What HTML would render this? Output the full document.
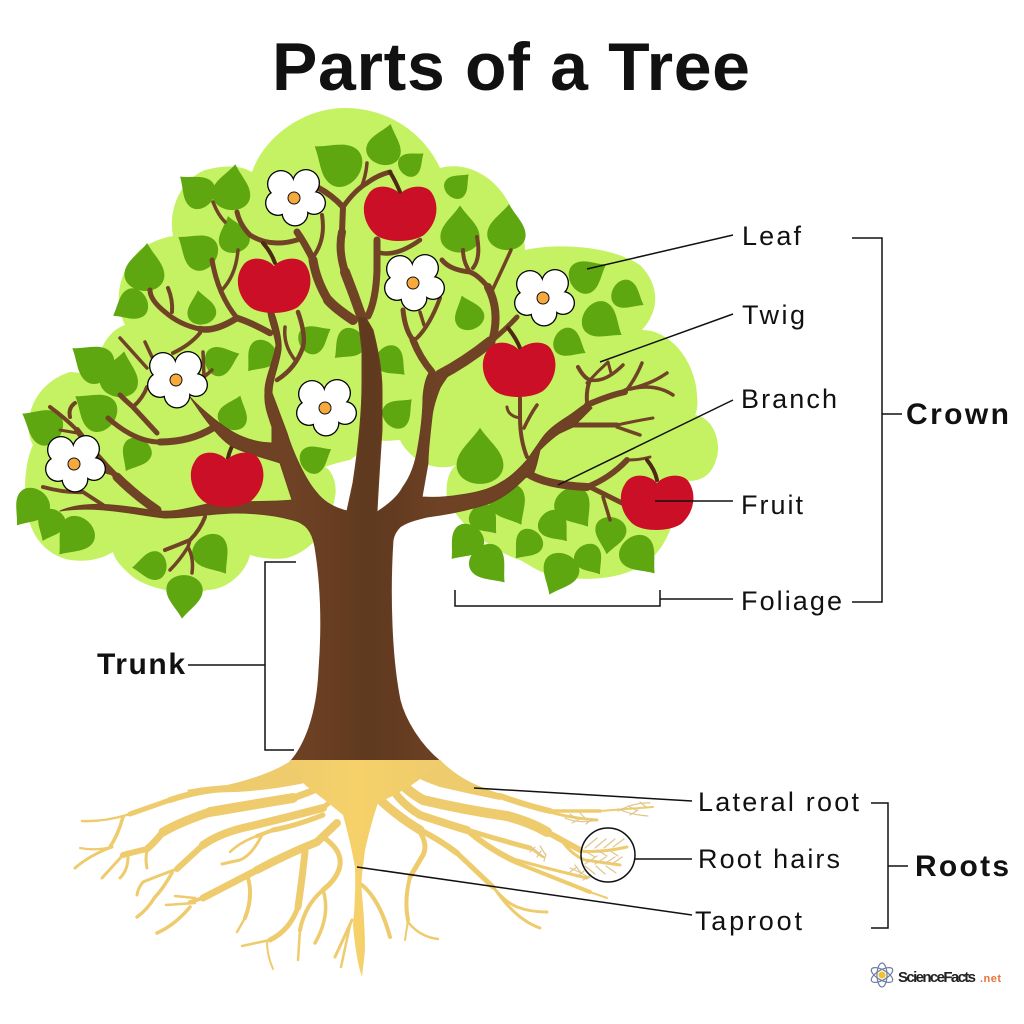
<!DOCTYPE html>
<html><head><meta charset="utf-8"><style>
html,body{margin:0;padding:0;background:#fff}
svg{display:block}
text{font-family:"Liberation Sans",sans-serif;fill:#111}
.l{font-size:27px}
.b{font-size:30px;font-weight:bold}
.br{fill:none;stroke:#704326;stroke-linecap:round;stroke-linejoin:round}
.ln{fill:none;stroke:#111;stroke-width:1.5}
.r{fill:none;stroke:#eecb6c;stroke-linecap:round;stroke-linejoin:round}
.h{fill:none;stroke:#dfc68c;stroke-width:1.2;stroke-linecap:round}
</style></head><body>
<svg width="1024" height="1024" viewBox="0 0 1024 1024" xmlns="http://www.w3.org/2000/svg">
<defs>
<linearGradient id="tk" gradientUnits="userSpaceOnUse" x1="290" x2="440" y1="0" y2="0"><stop offset="0" stop-color="#6f4225"/><stop offset=".3" stop-color="#673d21"/><stop offset=".5" stop-color="#5f3a1f"/><stop offset=".7" stop-color="#633b20"/><stop offset="1" stop-color="#6f4225"/></linearGradient>
<linearGradient id="bg" gradientUnits="userSpaceOnUse" x1="280" x2="445" y1="0" y2="0"><stop offset="0" stop-color="#eecb6c"/><stop offset=".45" stop-color="#f6d16a"/><stop offset="1" stop-color="#eecb6c"/></linearGradient>
<path id="lf" d="M0,-25C8,-13 20,-5 20,7C20,17 10,23 0,23C-10,23 -20,17 -20,7C-20,-5 -8,-13 0,-25Z" fill="#5ea710"/>
<path id="ap" d="M0,-19C8,-28 28,-30 33,-18C40,-5 36,12 24,22C12,30 -14,30 -24,22C-36,12 -40,-6 -32,-18C-26,-30 -8,-28 0,-19Z" fill="#cb0f26"/>
<g id="fl">
<g fill="#000"><circle cx="-13" cy="-14" r="14"/><circle cx="12" cy="-15" r="14"/><circle cx="20" cy="5" r="12"/><circle cx="1" cy="15" r="13.5"/><circle cx="-16" cy="5" r="13"/></g>
<g fill="#fff"><circle cx="-13" cy="-14" r="12.7"/><circle cx="12" cy="-15" r="12.7"/><circle cx="20" cy="5" r="10.7"/><circle cx="1" cy="15" r="12.2"/><circle cx="-16" cy="5" r="11.7"/><circle r="14"/></g>
<circle r="6" fill="#f8a93c" stroke="#111" stroke-width="1"/>
</g>
</defs>

<text x="272" y="90" font-size="68" font-weight="bold" textLength="478" lengthAdjust="spacing">Parts of a Tree</text>

<!-- foliage -->
<path fill="#c5f263" d="M252,172C265,135 305,108 345,108C390,108 425,135 440,168C470,160 500,180 512,210C522,230 525,240 525,250C555,243 610,245 640,265C660,285 660,310 642,330C670,330 695,360 697,395C698,405 697,412 695,415C715,418 722,445 716,460C710,480 695,483 678,480C678,510 672,540 650,560C625,580 590,580 570,578C545,578 530,565 520,560C490,550 460,525 447,500C445,480 450,470 456,465C445,470 425,466 417,460C408,452 403,447 400,440C395,440 385,442 377,440L350,460C340,462 330,465 325,467C335,472 337,490 335,497C330,525 315,550 287,558C275,560 260,558 250,555C245,575 225,590 207,590C190,597 150,590 133,577C122,568 115,560 113,552C100,560 85,562 70,560C45,555 30,535 27,510C22,480 28,455 33,445C22,425 30,385 70,372C80,372 88,375 92,375C100,345 110,330 125,325C115,305 115,275 140,250C150,242 165,237 173,236C168,210 180,180 205,170C225,165 240,165 252,172Z"/>

<!-- leaves -->
<g>
<use href="#lf" transform="translate(337,162) rotate(-55) scale(1.09)"/>
<use href="#lf" transform="translate(385,145) rotate(15) scale(.87)"/>
<use href="#lf" transform="translate(412,163) rotate(50) scale(.6)"/>
<use href="#lf" transform="translate(196,190) rotate(-50) scale(.83)"/>
<use href="#lf" transform="translate(232,188) rotate(8) scale(.96)"/>
<use href="#lf" transform="translate(458,185) rotate(45) scale(.6)"/>
<use href="#lf" transform="translate(460,230) rotate(0) scale(.98)"/>
<use href="#lf" transform="translate(507,228) rotate(5) scale(.96)"/>
<use href="#lf" transform="translate(197,250) rotate(-55) scale(.91)"/>
<use href="#lf" transform="translate(233,235) rotate(-15) scale(.78)"/>
<use href="#lf" transform="translate(145,268) rotate(5) scale(1)"/>
<use href="#lf" transform="translate(130,306) rotate(-120) scale(.78)"/>
<use href="#lf" transform="translate(201,308) rotate(-10) scale(.72)"/>
<use href="#lf" transform="translate(92,362) rotate(-55) scale(.96)"/>
<use href="#lf" transform="translate(120,375) rotate(10) scale(.96)"/>
<use href="#lf" transform="translate(95,410) rotate(-55) scale(.96)"/>
<use href="#lf" transform="translate(42,425) rotate(-60) scale(.91)"/>
<use href="#lf" transform="translate(30,508) rotate(-143) scale(.87)"/>
<use href="#lf" transform="translate(50,525) rotate(-155) scale(.7)"/>
<use href="#lf" transform="translate(74,537) rotate(-140) scale(.91)"/>
<use href="#lf" transform="translate(135,455) rotate(-150) scale(.74)"/>
<use href="#lf" transform="translate(234,413) rotate(20) scale(.74)"/>
<use href="#lf" transform="translate(222,360) rotate(70) scale(.74)"/>
<use href="#lf" transform="translate(260,357) rotate(-140) scale(.74)"/>
<use href="#lf" transform="translate(315,338) rotate(60) scale(.72)"/>
<use href="#lf" transform="translate(348,345) rotate(-135) scale(.74)"/>
<use href="#lf" transform="translate(392,362) rotate(135) scale(.72)"/>
<use href="#lf" transform="translate(399,412) rotate(45) scale(.72)"/>
<use href="#lf" transform="translate(316,458) rotate(60) scale(.7)"/>
<use href="#lf" transform="translate(480,457) rotate(0) scale(1.17)"/>
<use href="#lf" transform="translate(468,313) rotate(-20) scale(.74)"/>
<use href="#lf" transform="translate(588,275) rotate(60) scale(.83)"/>
<use href="#lf" transform="translate(628,296) rotate(120) scale(.72)"/>
<use href="#lf" transform="translate(603,322) rotate(125) scale(.91)"/>
<use href="#lf" transform="translate(570,344) rotate(120) scale(.72)"/>
<use href="#lf" transform="translate(510,505) rotate(150) scale(.91)"/>
<use href="#lf" transform="translate(485,520) rotate(140) scale(.7)"/>
<use href="#lf" transform="translate(465,543) rotate(-140) scale(.83)"/>
<use href="#lf" transform="translate(490,565) rotate(140) scale(.91)"/>
<use href="#lf" transform="translate(527,545) rotate(-140) scale(.7)"/>
<use href="#lf" transform="translate(555,527) rotate(140) scale(.74)"/>
<use href="#lf" transform="translate(575,508) rotate(145) scale(.91)"/>
<use href="#lf" transform="translate(610,535) rotate(-170) scale(.78)"/>
<use href="#lf" transform="translate(640,556) rotate(140) scale(.91)"/>
<use href="#lf" transform="translate(590,560) rotate(145) scale(.7)"/>
<use href="#lf" transform="translate(559,574) rotate(-155) scale(.91)"/>
<use href="#lf" transform="translate(150,566) rotate(-95) scale(.72)"/>
<use href="#lf" transform="translate(213,555) rotate(145) scale(.91)"/>
<use href="#lf" transform="translate(184,596) rotate(-175) scale(.91)"/>
</g>

<!-- branches -->
<g class="br">
<path d="M353,320Q335,308 328,300" stroke-width="10"/>
<path d="M328,300Q316,280 313,260" stroke-width="9"/>
<path d="M313,260Q306,245 297,232" stroke-width="7"/>
<path d="M297,240Q270,248 250,235Q240,225 237,212" stroke-width="5"/>
<path d="M213,202Q218,215 225,222" stroke-width="3.5"/>
<path d="M313,257Q326,240 322,215" stroke-width="4"/>
<path d="M362,318Q354,295 345,272" stroke-width="10"/>
<path d="M345,272Q338,250 342,232" stroke-width="8"/>
<path d="M342,232L343,207Q332,195 317,187" stroke-width="6"/>
<path d="M343,207Q355,190 367,183Q378,175 390,172" stroke-width="5"/>
<path d="M367,163Q366,176 361,188" stroke-width="3.5"/>
<path d="M368,316Q376,300 377,270L377,240" stroke-width="7"/>
<path d="M377,252Q395,258 420,240" stroke-width="4.5"/>
<path d="M270,333Q250,322 237,318Q215,332 200,329" stroke-width="6.5"/>
<path d="M200,329Q180,325 165,312Q150,300 150,290" stroke-width="5"/>
<path d="M168,288Q173,300 172,312" stroke-width="4"/>
<path d="M200,333Q190,345 173,353" stroke-width="4"/>
<path d="M237,318Q218,295 212,260" stroke-width="5"/>
<path d="M222,290Q236,275 238,250" stroke-width="3.5"/>
<path d="M298,312Q306,335 303,347Q296,368 277,380" stroke-width="4.5"/>
<path d="M285,327Q283,345 295,360" stroke-width="3.5"/>
<path d="M213,428Q190,442 160,442" stroke-width="7"/>
<path d="M160,442Q135,442 108,418" stroke-width="5"/>
<path d="M157,433Q145,420 133,407Q125,400 120,395" stroke-width="5"/>
<path d="M133,407Q143,398 147,387" stroke-width="4"/>
<path d="M120,338L147,368" stroke-width="3.5"/>
<path d="M145,342L152,357" stroke-width="3.5"/>
<path d="M203,352L204,377M204,377L212,370" stroke-width="3.5"/>
<path d="M157,510Q135,495 117,477" stroke-width="9"/>
<path d="M117,477Q95,455 77,430" stroke-width="6"/>
<path d="M77,430Q65,418 50,407" stroke-width="4"/>
<path d="M70,417Q68,408 75,403" stroke-width="4"/>
<path d="M60,430L77,433" stroke-width="3"/>
<path d="M43,487Q65,493 83,492L103,505" stroke-width="4"/>
<path d="M107,472L118,475" stroke-width="4"/>
<path d="M205,517Q200,530 190,540Q178,545 165,550" stroke-width="4"/>
<path d="M190,540L188,547Q180,560 170,570" stroke-width="3.5"/>
<path d="M188,547Q194,558 192,573" stroke-width="3.5"/>
<path d="M403,310Q405,330 413,340" stroke-width="5"/>
<path d="M413,340Q420,358 432,372" stroke-width="7"/>
<path d="M420,312L424,325" stroke-width="3.5"/>
<path d="M440,298Q430,325 417,338" stroke-width="4"/>
<path d="M440,375Q465,362 490,342" stroke-width="11"/>
<path d="M490,342Q505,330 517,317" stroke-width="5"/>
<path d="M493,338Q500,310 488,287" stroke-width="8"/>
<path d="M488,287Q478,275 470,272Q450,270 442,260" stroke-width="5"/>
<path d="M470,272Q463,262 463,250" stroke-width="4"/>
<path d="M473,268Q481,258 477,237" stroke-width="4"/>
<path d="M490,295Q502,270 511,250" stroke-width="3.5"/>
<path d="M527,457Q520,440 520,417L520,398" stroke-width="4"/>
<path d="M507,407Q508,416 520,418" stroke-width="3"/>
<path d="M537,405Q530,415 524,428" stroke-width="3.5"/>
<path d="M587,405Q610,395 625,392" stroke-width="6"/>
<path d="M625,392Q635,380 642,363" stroke-width="3.5"/>
<path d="M625,390Q650,385 667,373" stroke-width="3.5"/>
<path d="M630,389Q655,383 673,395" stroke-width="3.5"/>
<path d="M573,425Q595,425 617,425" stroke-width="5"/>
<path d="M617,425Q635,421 653,418" stroke-width="3"/>
<path d="M617,427L640,435" stroke-width="3.5"/>
<path d="M587,402Q586,390 590,380Q584,378 578,367" stroke-width="4"/>
<path d="M590,380Q605,383 623,365" stroke-width="3.5"/>
<path d="M587,383Q597,372 608,362L611,373" stroke-width="3"/>
<path d="M527,473Q545,485 587,487" stroke-width="8"/>
<path d="M587,487Q610,478 627,460" stroke-width="6"/>
<path d="M627,460Q640,460 650,457" stroke-width="3"/>
<path d="M590,487L622,503" stroke-width="5"/>
<path d="M603,497L610,520" stroke-width="3.5"/>
</g>
<g class="br" style="stroke:#4c2a13" stroke-width="4">
<path d="M390,172Q396,182 400,192"/>
<path d="M263,243Q271,252 275,263"/>
<path d="M508,328Q516,338 520,348"/>
<path d="M647,460Q655,470 657,480"/>
<path d="M237,438Q230,448 228,458"/>
</g>

<!-- trunk and main limbs -->
<path fill="url(#tk)" stroke="#6a3f22" stroke-width="1" stroke-linejoin="round" d="M290,762C305,745 317,715 319,670C322,630 322,590 315,547C312,530 305,523 293,520C275,515 255,513 235,513C215,513 190,518 165,518C135,515 100,505 60,511C85,500 120,505 150,510C170,514 190,508 207,504C235,500 265,503 292,500L280,463C265,458 250,455 233,447C220,440 205,420 190,397C200,408 225,430 243,437C255,442 265,443 272,443L272,427C268,415 264,405 265,393C264,380 274,360 276,345C275,335 270,325 268,313L274,313C278,325 282,340 281,350C279,365 272,380 272,393L287,433C292,450 305,480 317,493C325,503 335,508 347,511L353,483C358,450 362,415 362,383L362,350L358,317L366,318L373,330C378,350 382,370 382,390L382,430C380,460 378,490 377,512C388,505 398,497 403,487C412,475 416,460 418,447C421,430 423,410 423,397C424,385 426,378 429,373L450,373C445,380 442,384 440,388C436,398 433,407 432,417C430,435 428,450 428,463L422,497C435,498 448,497 460,495C475,493 488,490 500,483C510,478 520,468 527,460L543,437C550,428 558,423 567,417C575,412 580,407 587,403L592,408C585,415 578,422 573,427L560,433C552,438 545,445 540,450C538,458 537,465 534,472C530,475 527,477 525,478C515,488 505,497 490,503C470,510 450,514 427,517C415,520 407,522 400,527C396,531 394,535 393,540C391,570 391,600 392,625C393,650 395,675 400,700C405,720 420,745 441,762Z"/>

<!-- roots -->
<g class="r">
<path stroke-width="6" d="M227,789Q200,790 170,800"/>
<path stroke-width="5" d="M170,800L130,814"/>
<path stroke-width="2.5" d="M130,814Q105,822 82,821"/>
<path stroke-width="3.5" d="M123,817Q118,835 110,847"/>
<path stroke-width="2.2" d="M112,847Q95,851 80,848"/>
<path stroke-width="3" d="M112,847Q90,855 75,868"/>

<path stroke-width="7" d="M350,773Q325,787 293,798"/>
<path stroke-width="10" d="M293,798Q250,805 210,812"/>
<path stroke-width="9" d="M210,812Q180,822 163,832"/>
<path stroke-width="7" d="M163,832Q155,842 147,849"/>
<path stroke-width="6" d="M147,849Q130,853 123,855"/>
<path stroke-width="3" d="M123,855L102,878"/>
<path stroke-width="3" d="M128,857Q128,870 120,878"/>
<path stroke-width="3" d="M147,850Q145,860 147,868"/>

<path stroke-width="5" d="M340,793L323,808"/>
<path stroke-width="8" d="M323,808Q285,818 247,827"/>
<path stroke-width="8" d="M247,827Q220,833 203,845"/>
<path stroke-width="6" d="M203,845L177,869"/>
<path stroke-width="3" d="M177,869Q155,877 143,882Q138,888 137,895"/>
<path stroke-width="3.5" d="M172,873Q162,890 155,897Q147,910 137,917"/>

<path stroke-width="5" d="M323,815Q295,826 273,830"/>
<path stroke-width="4" d="M273,830L257,836"/>
<path stroke-width="2.5" d="M257,836Q240,842 230,852"/>
<path stroke-width="3" d="M262,835Q252,855 240,860L222,864"/>

<path stroke-width="8" d="M337,823L317,842"/>
<path stroke-width="8" d="M317,842Q285,855 257,870"/>
<path stroke-width="7" d="M257,870L203,898"/>
<path stroke-width="4" d="M203,898L190,902"/>
<path stroke-width="2.5" d="M195,898Q185,897 175,896"/>
<path stroke-width="2.5" d="M195,903L166,905"/>
<path stroke-width="3.5" d="M190,907Q175,925 157,933"/>
<path stroke-width="4" d="M247,875Q254,895 245,918"/>
<path stroke-width="2.5" d="M245,918L237,932"/>
<path stroke-width="7" d="M305,852Q302,880 298,907"/>
<path stroke-width="5" d="M298,907Q290,930 270,940"/>
<path stroke-width="2.5" d="M270,940L242,946"/>
<path stroke-width="2" d="M267,942Q267,955 273,969"/>

<path stroke-width="5" d="M323,837Q342,850 340,865Q338,878 323,890"/>
<path stroke-width="4" d="M323,890Q305,905 300,930"/>
<path stroke-width="2.5" d="M300,930L298,960"/>
<path stroke-width="3.5" d="M323,890Q331,915 315,943"/>

<path stroke-width="3" d="M352,920L335,957"/>
<path stroke-width="2.5" d="M350,925L341,967"/>
<path stroke-width="4" d="M362,885Q380,900 390,937"/>

<path stroke-width="9" d="M375,795Q395,815 420,830"/>
<path stroke-width="5" d="M420,832Q428,845 423,855L410,877"/>
<path stroke-width="4" d="M410,877Q404,900 408,920"/>
<path stroke-width="2" d="M408,920L405,940"/>
<path stroke-width="2.5" d="M408,922Q420,937 438,939"/>
<path stroke-width="6" d="M420,830Q440,840 457,853"/>
<path stroke-width="5" d="M457,853L493,887"/>
<path stroke-width="3" d="M493,887Q505,902 517,907Q530,912 547,912"/>
<path stroke-width="3" d="M497,892Q517,920 540,928"/>

<path stroke-width="8" d="M385,775Q395,800 420,815"/>
<path stroke-width="8" d="M420,815Q450,825 467,830"/>
<path stroke-width="5" d="M467,830Q500,840 530,848"/>
<path stroke-width="2.5" d="M530,848L543,857"/>
<path stroke-width="6" d="M467,830Q490,850 517,862"/>
<path stroke-width="3" d="M517,860Q545,868 587,878"/>
<path stroke-width="4" d="M517,863Q560,880 590,892"/>
<path stroke-width="2" d="M590,892L607,898"/>

<path stroke-width="10" d="M392,773Q405,790 423,800"/>
<path stroke-width="10" d="M423,800Q465,810 507,816"/>
<path stroke-width="10" d="M507,816Q530,822 547,832"/>
<path stroke-width="6" d="M547,832L580,850"/>
<path stroke-width="3" d="M580,851Q600,853 627,847"/>
<path stroke-width="3" d="M562,841Q572,855 585,860L620,865"/>

<path stroke-width="6" d="M500,796Q525,805 550,811"/>
<path stroke-width="3.5" d="M550,811L600,811"/>
<path stroke-width="2" d="M600,811L653,807"/>
<path stroke-width="3" d="M550,812Q570,818 597,820"/>
</g>
<path fill="#eecb6c" d="M292,760Q270,775 227,785Q200,787 187,790L190,795Q210,792 237,792Q270,790 300,784L345,775Z"/>
<path fill="#eecb6c" d="M440,760Q450,770 463,778Q480,788 505,795L500,800Q470,794 440,787Q425,782 405,772Z"/>
<path d="M290,760H441Q425,778 400,792Q385,800 378,803Q372,820 365,850L362,875Q361,885 362,895Q365,925 365,950L362,977Q356,960 353,925Q356,895 355,867Q350,840 343,815Q325,800 305,785Q298,772 290,760Z" fill="url(#bg)"/>
<g class="h">
<path d="M618,811Q635,802 650,803M618,809Q632,815 648,816M628,806l8,4m4,-8l6,5M630,815l8,-5"/>
<path d="M565,818Q578,824 597,820M570,814l6,5m4,-6l6,6M572,823l8,-4m6,5l6,-5"/>
<path d="M585,848l12,-10m-2,10l11,-9m-2,9l11,-9m-2,8l11,-8M585,851l10,6m2,-7l10,6m2,-6l9,6"/>
<path d="M585,864l12,-8m-2,8l11,-7m-2,7l11,-7m-3,7l10,-7M585,866l10,8m1,-8l9,8m1,-8l10,7"/>
<path d="M530,846Q538,852 545,858M530,852l5,-5m2,10l4,-6m3,10l2,-7M540,846l5,8"/>
<path d="M570,868Q580,872 590,878M570,872l7,-5m0,10l7,-6m-1,9l8,-5M575,865l6,8"/>
</g>

<!-- apples -->
<use href="#ap" transform="translate(400,213)"/>
<use href="#ap" transform="translate(274,285)"/>
<use href="#ap" transform="translate(519,369)"/>
<use href="#ap" transform="translate(227,479)"/>
<use href="#ap" transform="translate(657,502)"/>

<!-- flowers -->
<use href="#fl" transform="translate(294,198)"/>
<use href="#fl" transform="translate(413,283)"/>
<use href="#fl" transform="translate(543,298)"/>
<use href="#fl" transform="translate(176,380)"/>
<use href="#fl" transform="translate(325,408)"/>
<use href="#fl" transform="translate(74,464)"/>

<!-- leader lines -->
<g class="ln">
<path d="M587,269L733,235"/>
<path d="M600,362L733,314"/>
<path d="M558,485L733,400"/>
<path d="M655,501H733"/>
<path d="M455,590V606H660V590M660,599H733"/>
<path d="M852,238H882V602H852M882,414H902"/>
<path d="M296,562H265V750H294M188,665H265"/>
<path d="M474,788L692,801"/>
<circle cx="608" cy="855" r="27"/>
<path d="M635,859H692"/>
<path d="M357,867L692,915"/>
<path d="M871,803H888V928H871M888,866H908"/>
</g>

<!-- labels -->
<text class="l" x="742" y="245" textLength="59">Leaf</text>
<text class="l" x="742" y="324" textLength="63">Twig</text>
<text class="l" x="741" y="408" textLength="96">Branch</text>
<text class="l" x="741" y="514" textLength="62">Fruit</text>
<text class="l" x="741" y="610" textLength="101">Foliage</text>
<text class="b" x="906" y="424" textLength="103">Crown</text>
<text class="b" x="97" y="674" textLength="88">Trunk</text>
<text class="l" x="698" y="811" textLength="161">Lateral root</text>
<text class="l" x="698" y="868" textLength="142">Root hairs</text>
<text class="l" x="695" y="930" textLength="107">Taproot</text>
<text class="b" x="915" y="876" textLength="94">Roots</text>

<!-- logo -->
<g fill="none" stroke="#6e7ea0" stroke-width="1.2">
<ellipse cx="882" cy="975" rx="12" ry="5" transform="rotate(30 882 975)"/>
<ellipse cx="882" cy="975" rx="12" ry="5" transform="rotate(-30 882 975)"/>
<ellipse cx="882" cy="975" rx="12" ry="5" transform="rotate(90 882 975)"/>
</g>
<circle cx="882" cy="975" r="3.5" fill="#f2c12e"/>
<text x="898" y="982" font-size="15" font-weight="bold" textLength="78" style="fill:#222">ScienceFacts</text>
<text x="980" y="982" font-size="11" font-weight="bold" textLength="21" style="fill:#e8743a">.net</text>
</svg>
</body></html>
